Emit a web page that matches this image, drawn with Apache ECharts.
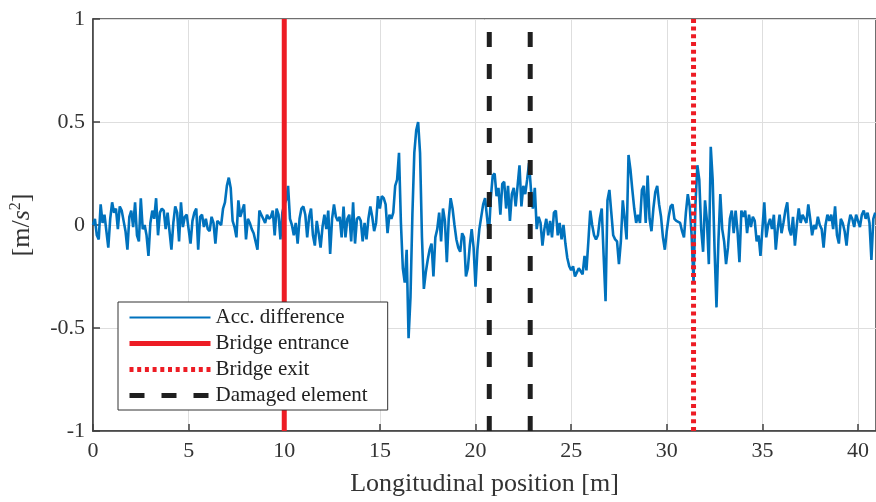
<!DOCTYPE html>
<html lang="en">
<head>
    <meta charset="UTF-8">
    <title>Acc. difference along the bridge</title>
    <script src="https://cdn.jsdelivr.net/npm/echarts@6/dist/echarts.min.js"></script>
    <style>
        html, body { margin: 0; padding: 0; background: #fff; }
        #chart { width: 876px; height: 502px; }
    </style>
</head>
<body>
    <div id="chart"></div>
    <script>
        // sample spacing of the measured signal [m]
        const sampleSpacing = 0.1;

        // acceleration difference [m/s^2], one row per metre
        const accDiff = [
            0.00, 0.03, -0.05, -0.07, 0.10, 0.01, 0.05, -0.03, -0.11, 0.03,
            0.11, 0.06, 0.08, -0.02, 0.09, 0.07, 0.02, -0.03, -0.12, 0.04,
            0.07, -0.01, 0.11, -0.05, -0.08, 0.13, -0.02, 0.00, -0.05, -0.15,
            0.01, 0.07, 0.03, 0.13, -0.05, 0.06, 0.08, 0.07, -0.02, 0.06,
            -0.03, -0.12, 0.01, 0.09, 0.06, -0.08, 0.11, -0.01, 0.04, 0.05,
            -0.02, -0.09, 0.02, 0.06, 0.08, -0.12, 0.04, 0.05, -0.01, 0.03,
            -0.02, -0.03, 0.04, 0.01, -0.09, 0.02, 0.01, 0.00, 0.08, 0.11,
            0.19, 0.23, 0.18, 0.02, -0.01, -0.06, 0.12, 0.04, 0.07, 0.10,
            -0.07, 0.03, 0.01, -0.02, -0.04, -0.08, -0.12, 0.07, 0.05, 0.03,
            0.01, 0.05, 0.03, 0.04, 0.07, -0.05, 0.08, 0.05, -0.07, 0.06,
            0.10, 0.12, 0.19, 0.03, 0.00, -0.05, 0.01, -0.09, 0.03, 0.08,
            0.09, 0.05, -0.06, 0.04, 0.08, -0.05, -0.10, 0.02, -0.04, -0.11,
            -0.01, 0.05, -0.02, 0.07, -0.14, 0.03, 0.10, 0.04, 0.02, 0.04,
            -0.06, 0.09, -0.06, 0.03, 0.05, -0.08, 0.11, -0.09, 0.03, 0.04,
            0.02, -0.08, 0.01, -0.07, 0.03, 0.09, 0.04, -0.03, 0.01, 0.14,
            0.08, 0.14, 0.13, 0.10, -0.04, 0.05, 0.03, 0.06, 0.19, 0.22,
            0.35, 0.01, -0.21, -0.28, -0.12, -0.55, -0.35, 0.05, 0.35, 0.46,
            0.50, 0.35, -0.06, -0.31, -0.23, -0.17, -0.12, -0.09, -0.25, -0.06,
            -0.02, 0.06, -0.08, 0.08, 0.02, -0.18, 0.03, 0.13, 0.08, 0.00,
            -0.07, -0.11, -0.13, -0.04, -0.06, -0.25, -0.21, -0.10, -0.02, -0.11,
            -0.30, -0.12, -0.02, -0.02, 0.10, 0.13, 0.04, -0.05, 0.13, 0.24,
            0.25, 0.14, 0.18, 0.05, 0.20, 0.21, 0.08, 0.19, 0.02, 0.15,
            0.18, 0.09, 0.19, 0.29, 0.09, 0.19, 0.15, 0.22, 0.30, 0.17,
            0.08, 0.18, -0.02, 0.04, 0.01, -0.10, -0.02, 0.03, -0.05, 0.02,
            -0.06, 0.06, 0.07, -0.05, 0.01, -0.07, 0.00, -0.09, -0.16, -0.20,
            -0.22, -0.20, -0.25, -0.23, -0.21, -0.21, -0.24, -0.15, -0.22, -0.08,
            0.07, 0.00, -0.05, -0.07, -0.05, 0.03, 0.08, -0.15, -0.37, 0.12,
            0.17, 0.06, -0.05, -0.07, -0.08, -0.19, -0.08, 0.12, 0.03, -0.07,
            0.34, 0.27, 0.17, 0.08, 0.01, 0.05, 0.01, 0.17, 0.19, 0.01,
            0.24, 0.03, -0.03, 0.08, 0.16, 0.19, 0.10, 0.04, -0.06, -0.12,
            -0.03, 0.04, 0.09, 0.10, 0.03, 0.02, 0.02, 0.01, -0.03, -0.06,
            0.06, 0.15, 0.09, -0.05, -0.28, 0.10, 0.29, 0.22, -0.02, -0.13,
            0.12, 0.02, -0.19, 0.38, 0.22, -0.12, -0.40, -0.08, 0.15, -0.02,
            -0.08, -0.19, -0.11, 0.03, 0.07, -0.04, 0.07, -0.03, -0.18, 0.07,
            0.04, 0.07, -0.04, 0.05, -0.01, 0.04, 0.02, -0.08, -0.05, -0.15,
            -0.02, 0.11, -0.06, 0.00, 0.03, -0.02, 0.05, -0.12, -0.02, 0.05,
            -0.04, 0.01, 0.07, 0.11, -0.02, -0.05, 0.04, -0.10, 0.00, 0.08,
            0.01, 0.05, 0.03, 0.01, 0.10, 0.03, -0.05, 0.00, -0.02, 0.04,
            0.00, -0.02, -0.11, 0.00, 0.05, 0.02, 0.05, -0.02, 0.09, -0.05,
            -0.09, 0.03, 0.01, -0.03, -0.10, 0.00, 0.05, 0.03, -0.01, 0.05,
            0.02, -0.01, 0.05, 0.07, 0.03, 0.06, 0.01, -0.17, 0.03, 0.06
        ];

        // marker positions [m]
        const bridgeEntrance = 10;
        const bridgeExit = 31.4;
        const damagedElement = [20.72, 22.86];

        const xTicks = [0, 5, 10, 15, 20, 25, 30, 35, 40];
        const yTicks = [-1, -0.5, 0, 0.5, 1];

        const xMax = 40.94;
        const font = '"Liberation Serif", "DejaVu Serif", serif';
        const textColor = '#333';
        const blue = '#0072bd';
        const red = '#ed1c24';
        const black = '#1f1f1f';
        const exitDash = [4, 3.7];
        const damagedDash = [15, 17];

        const signal = accDiff.map((v, i) => [+(i * sampleSpacing).toFixed(2), v]);
        const vline = x => [[x, yTicks[0]], [x, yTicks[yTicks.length - 1]]];

        const chart = echarts.init(document.getElementById('chart'), null, { renderer: 'canvas' });

        const damagedSeries = damagedElement.map(x => ({
            name: 'Damaged element',
            type: 'line',
            data: vline(x),
            symbol: 'none',
            silent: true,
            lineStyle: { color: black, width: 5, type: damagedDash, cap: 'butt' },
            itemStyle: { color: black },
            z: 4
        }));

        chart.setOption({
            animation: false,
            backgroundColor: '#fff',
            grid: {
                left: 93, top: 19, right: -2, bottom: 69,
                show: true, borderColor: '#404040', borderWidth: 1.5
            },
            legend: {
                left: 118,
                top: 302,
                orient: 'vertical',
                padding: [5, 20, 4, 9],
                itemGap: 5,
                itemWidth: 81,
                itemHeight: 14,
                backgroundColor: '#fff',
                borderColor: '#333',
                borderWidth: 1,
                borderRadius: 0,
                itemStyle: { opacity: 0 },
                data: [
                    { name: 'Acc. difference', lineStyle: { color: blue, width: 2 } },
                    { name: 'Bridge entrance', lineStyle: { color: red, width: 5 } },
                    { name: 'Bridge exit', lineStyle: { color: red, width: 5, type: exitDash, cap: 'butt' } },
                    { name: 'Damaged element', lineStyle: { color: black, width: 5, type: damagedDash, cap: 'butt' } }
                ],
                textStyle: { fontFamily: font, fontSize: 21, color: '#222', lineHeight: 21 }
            },
            xAxis: {
                type: 'value',
                min: xTicks[0],
                max: xMax,
                interval: 5,
                name: 'Longitudinal position [m]',
                nameLocation: 'middle',
                nameGap: 40,
                nameTextStyle: { fontFamily: font, fontSize: 26, color: textColor },
                axisLine: { onZero: false, lineStyle: { color: '#404040', width: 1.5 } },
                axisTick: { inside: true, length: 7, lineStyle: { color: '#404040', width: 1.5 } },
                axisLabel: {
                    fontFamily: font, fontSize: 22, color: textColor, margin: 9,
                    showMaxLabel: false
                },
                splitLine: { show: true, lineStyle: { color: '#dedede', width: 1 } }
            },
            yAxis: {
                type: 'value',
                min: yTicks[0],
                max: yTicks[yTicks.length - 1],
                interval: 0.5,
                name: '[m/{i|s}{sup|2}]',
                nameLocation: 'middle',
                nameGap: 56,
                nameTextStyle: {
                    fontFamily: font, fontSize: 26, color: textColor,
                    rich: {
                        i: { fontFamily: font, fontSize: 26, fontStyle: 'italic', color: textColor },
                        sup: { fontFamily: font, fontSize: 16, color: textColor, padding: [0, 0, 13, 0] }
                    }
                },
                axisLine: { onZero: false, lineStyle: { color: '#404040', width: 1.5 } },
                axisTick: { inside: true, length: 7, lineStyle: { color: '#404040', width: 1.5 } },
                axisLabel: { fontFamily: font, fontSize: 22, color: textColor, margin: 8 },
                splitLine: { show: true, lineStyle: { color: '#dedede', width: 1 } }
            },
            series: [
                {
                    name: 'Acc. difference',
                    type: 'line',
                    data: signal,
                    symbol: 'none',
                    lineStyle: { color: blue, width: 2.6 },
                    itemStyle: { color: blue },
                    z: 2
                },
                {
                    name: 'Bridge entrance',
                    type: 'line',
                    data: vline(bridgeEntrance),
                    symbol: 'none',
                    silent: true,
                    lineStyle: { color: red, width: 5 },
                    itemStyle: { color: red },
                    z: 3
                },
                {
                    name: 'Bridge exit',
                    type: 'line',
                    data: vline(bridgeExit),
                    symbol: 'none',
                    silent: true,
                    lineStyle: { color: red, width: 5, type: exitDash, cap: 'butt' },
                    itemStyle: { color: red },
                    z: 3
                }
            ].concat(damagedSeries)
        });
    </script>
</body>
</html>
